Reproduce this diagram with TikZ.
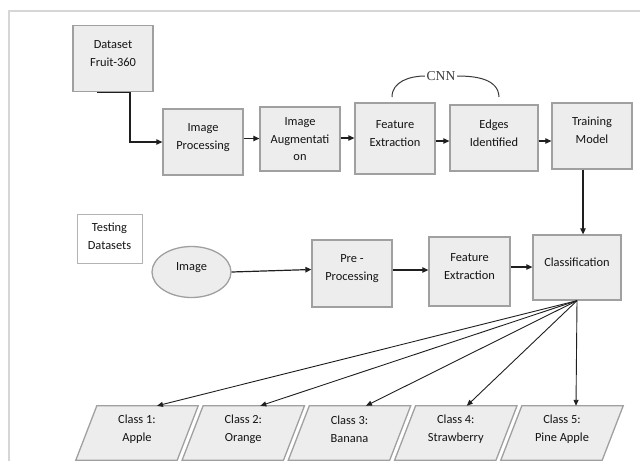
\documentclass[tikz,border=0pt]{standalone}
\usepackage{fontspec}
\setmainfont{Carlito}
\newfontfamily\cnnfont{Liberation Serif}
\usetikzlibrary{shapes.geometric,arrows.meta}
\definecolor{boxfill}{HTML}{EDEDED}
\definecolor{boxline}{HTML}{A0A0A0}
\definecolor{framecol}{HTML}{D6D6D6}
\definecolor{txtcol}{HTML}{141414}
\definecolor{cnncol}{HTML}{3A3A3A}
\begin{document}
\begin{tikzpicture}[x=1pt,y=-1pt,
  box/.style={draw=boxline, fill=boxfill, line width=1.3pt, minimum width=80pt, minimum height=66pt, inner sep=0pt},
  wbox/.style={draw=boxline!80, fill=white, line width=1pt, minimum width=65pt, minimum height=49pt, inner sep=0pt},
  ell/.style={ellipse, draw=boxline, fill=boxfill, line width=1.3pt, minimum width=79pt, minimum height=51pt, inner sep=0pt},
  para/.style={minimum width=101pt, minimum height=54pt, inner sep=0pt},
  parashape/.style={draw=boxline, fill=boxfill, line width=1.3pt, line join=miter},
  txt/.style={align=center, text=txtcol, font=\fontsize{12.4}{18}\selectfont, inner sep=0pt},
  cnn/.style={text=cnncol, font=\cnnfont\fontsize{13.6}{15}\selectfont, inner sep=1.5pt},
  arr/.style={-{Triangle[length=6pt,width=5.5pt]}, line width=1.2pt, black!88},
  fan/.style={-{Triangle[length=6pt,width=5pt]}, line width=0.9pt, black!88},
  cnnline/.style={line width=1pt, cnncol}
]
\useasboundingbox (0,0) rectangle (640,461);
\draw[framecol, line width=1.5pt] (9,461) -- (9,11) -- (640,11);

% top row
\node[box] (ds) at (113,58.5) {};
\node[txt] (dst) at ([yshift=5pt]ds.center) {Dataset\\Fruit-360};
\node[box] (ip) at (203,142) {};
\node[txt] (ipt) at ([yshift=4.5pt]ip.center) {Image\\Processing};
\node[box, minimum height=64pt] (ia) at (300,139) {};
\node[txt, font=\fontsize{12.4}{17.5}\selectfont] (iat) at ([yshift=-0.5pt]ia.center) {Image\\Augmentati\\on};
\node[box, minimum height=71pt] (fe1) at (395,138.5) {};
\node[txt] (fe1t) at ([yshift=4.5pt]fe1.center) {Feature\\Extraction};
\node[box, minimum width=88pt] (ei) at (494,138) {};
\node[txt] (eit) at ([yshift=5pt]ei.center) {Edges\\Identified};
\node[box] (tm) at (592,136) {};
\node[txt] (tmt) at ([yshift=5.5pt]tm.center) {Training\\Model};

% CNN bracket
\node[cnn] (cnn) at (441,76) {CNN};
\coordinate (cnnl) at (392,97);
\coordinate (cnnr) at (499,97);
\draw[cnnline] (cnnl) to[out=90,in=180] (cnn.west);
\draw[cnnline] (cnn.east) to[out=0,in=92] (cnnr);

% middle row
\node[wbox] (td) at (109.5,238.5) {};
\node[txt] (tdt) at ([yshift=2pt]td.center) {Testing\\Datasets};
\node[ell] (im) at (191.5,272) {};
\node[txt] (imt) at ([yshift=4pt]im.center) {Image};
\node[box, minimum height=67pt] (pre) at (352,273.5) {};
\node[txt] (pret) at ([yshift=4.5pt]pre.center) {Pre -\\Processing};
\node[box, minimum width=81pt, minimum height=69pt] (fe2) at (469.5,271.5) {};
\node[txt] (fe2t) at ([yshift=4.5pt]fe2.center) {Feature\\Extraction};
\node[box, minimum width=88pt, minimum height=65pt] (cls) at (577,267.5) {};
\node[txt] (clst) at ([yshift=5.5pt]cls.center) {Classification};

% bottom row
\node[para] (c1) at (137,433) {};
\node[para] (c2) at (243.3,433) {};
\node[para] (c3) at (349.5,433) {};
\node[para] (c4) at (455.8,433) {};
\node[para] (c5) at (562,433) {};
\foreach \c in {c1,c2,c3,c4,c5}{
  \draw[parashape] ([xshift=-10.5pt]\c.south west) -- ([xshift=10.5pt]\c.north west)
    -- ([xshift=10.5pt]\c.north east) -- ([xshift=-10.5pt]\c.south east) -- cycle;
}
\node[txt] (c1t) at ([yshift=3.5pt]c1.center) {Class 1:\\Apple};
\node[txt] (c2t) at ([yshift=3.5pt]c2.center) {Class 2:\\Orange};
\node[txt] (c3t) at ([yshift=3.5pt]c3.center) {Class 3:\\Banana};
\node[txt] (c4t) at ([yshift=3.5pt]c4.center) {Class 4:\\Strawberry};
\node[txt] (c5t) at ([yshift=3.5pt]c5.center) {Class 5:\\Pine Apple};

% connectors
\draw[arr] ([xshift=-16pt]ds.south) -- ([xshift=17pt]ds.south) |- (ip.west);
\draw[arr] ([yshift=3.5pt]ip.east) -- ([yshift=3.5pt]ip.east -| ia.west);
\draw[arr] ([yshift=1pt]ia.east) -- ([yshift=1pt]ia.east -| fe1.west);
\draw[arr] ([yshift=-2.5pt]fe1.east) -- ([yshift=-2.5pt]fe1.east -| ei.west);
\draw[arr] ([yshift=-3pt]ei.east) -- ([yshift=-3pt]ei.east -| tm.west);
\draw[arr] ([xshift=-9pt]tm.south) -- ([xshift=-9pt]tm.south |- cls.north);
\draw[arr] (im.east) -- ([yshift=4pt]pre.west);
\draw[arr] ([yshift=3.5pt]pre.east) -- ([yshift=3.5pt]pre.east -| fe2.west);
\draw[arr] ([yshift=4.5pt]fe2.east) -- ([yshift=0.5pt]cls.west);
\draw[fan] (cls.south) -- ([xshift=20pt]c1.north);
\draw[fan] (cls.south) -- ([xshift=17pt]c2.north);
\draw[fan] (cls.south) -- ([xshift=16.5pt]c3.north);
\draw[fan] (cls.south) -- ([xshift=11pt]c4.north);
\draw[fan] (cls.south) -- ([xshift=14pt]c5.north);
\end{tikzpicture}
\end{document}
